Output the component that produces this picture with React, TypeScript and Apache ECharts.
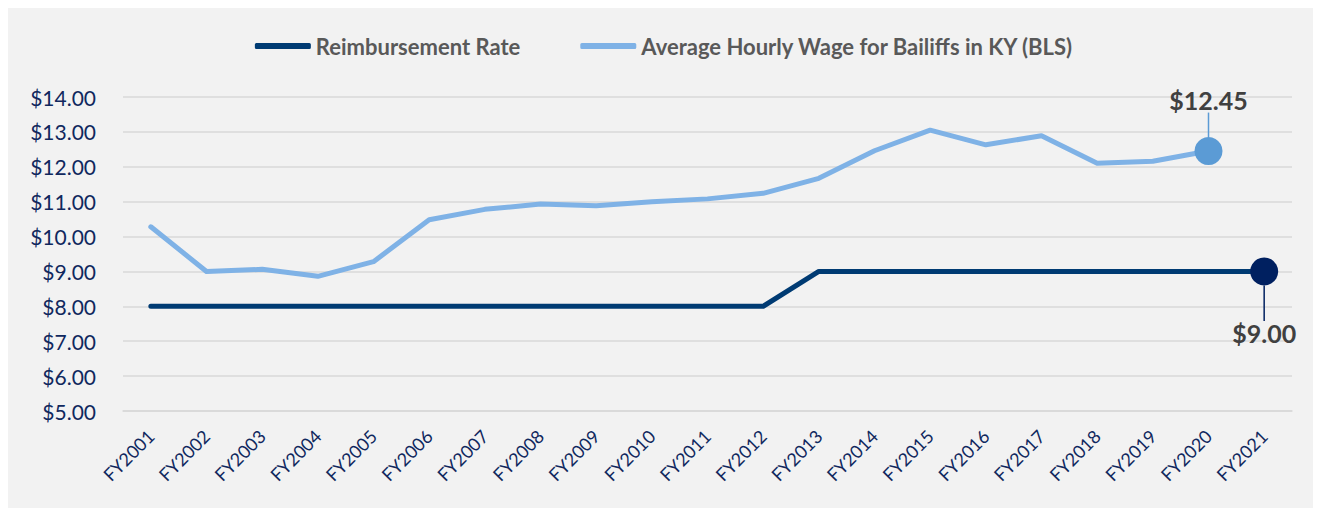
import React, { useEffect, useRef } from "react";
import * as echarts from "echarts";

const categories = [
  "FY2001", "FY2002", "FY2003", "FY2004", "FY2005", "FY2006", "FY2007",
  "FY2008", "FY2009", "FY2010", "FY2011", "FY2012", "FY2013", "FY2014",
  "FY2015", "FY2016", "FY2017", "FY2018", "FY2019", "FY2020", "FY2021",
];
const reimbursementRate = [8, 8, 8, 8, 8, 8, 8, 8, 8, 8, 8, 8, 9, 9, 9, 9, 9, 9, 9, 9, 9];
const avgHourlyWage = [
  10.28, 9.0, 9.06, 8.86, 9.28, 10.48, 10.78, 10.93, 10.88, 11.0, 11.08,
  11.24, 11.67, 12.46, 13.05, 12.63, 12.89, 12.1, 12.16, 12.45, null,
];
const seriesNames = ["Reimbursement Rate", "Average Hourly Wage for Bailiffs in KY (BLS)"];
const yMin = 5;
const yMax = 14;
const yInterval = 1;

const FONT = "Lato, 'Noto Sans', sans-serif";
const NAVY_TEXT = "#10285e";
const REIMB_LINE = "#003b73";
const REIMB_MARK = "#002060";
const WAGE_LINE = "#7fb2e6";
const WAGE_MARK = "#5b9bd5";

function lastIndex(arr: (number | null)[]) {
  for (let i = arr.length - 1; i >= 0; i--) if (arr[i] != null) return i;
  return -1;
}

function buildData(arr: (number | null)[], markColor: string) {
  const li = lastIndex(arr);
  return arr.map((v, i) => {
    if (i !== li) return { value: v };
    return {
      value: v,
      symbol: "circle",
      symbolSize: 28,
      itemStyle: { color: markColor },
      label: {
        show: true,
        position: "inside",
        formatter: (p: any) => "$" + Number(p.value).toFixed(2),
        fontFamily: FONT,
        fontWeight: "bold",
        fontSize: 25,
        color: "#404040",
      },
      labelLine: {
        show: true,
        lineStyle: { color: markColor, width: 1.5 },
      },
    };
  });
}

export default function App() {
  const ref = useRef<HTMLDivElement>(null);
  useEffect(() => {
    if (!ref.current) return;
    const chart = echarts.init(ref.current, null, { renderer: "svg" });
    chart.setOption({
      animation: false,
      backgroundColor: "#f2f2f2",
      legend: {
        top: 22,
        left: "center",
        itemWidth: 56,
        itemHeight: 6,
        itemGap: 60,
        icon: "roundRect",
        textStyle: {
          fontFamily: FONT,
          fontWeight: "bold",
          fontSize: 22,
          color: "#595959",
        },
        data: seriesNames,
      },
      grid: { left: 115, right: 29, top: 89, bottom: 97, containLabel: false },
      xAxis: {
        type: "category",
        data: categories,
        boundaryGap: true,
        axisLine: { show: true, lineStyle: { color: "#d9d9d9", width: 1.5 } },
        axisTick: { show: false },
        axisLabel: {
          rotate: 45,
          margin: 22,
          interval: 0,
          fontFamily: FONT,
          fontSize: 18,
          color: NAVY_TEXT,
        },
      },
      yAxis: {
        type: "value",
        min: yMin,
        max: yMax,
        interval: yInterval,
        axisLine: { show: false },
        axisTick: { show: false },
        splitLine: { lineStyle: { color: "#d9d9d9", width: 1.5 } },
        axisLabel: {
          margin: 27,
          fontFamily: FONT,
          fontSize: 21,
          color: NAVY_TEXT,
          formatter: (v: number) => "$" + v.toFixed(2),
        },
      },
      series: [
        {
          name: seriesNames[0],
          type: "line",
          data: buildData(reimbursementRate, REIMB_MARK),
          symbol: "none",
          color: REIMB_LINE,
          lineStyle: { color: REIMB_LINE, width: 5, cap: "round", join: "round" },
          labelLayout: { dy: 62 },
          z: 3,
        },
        {
          name: seriesNames[1],
          type: "line",
          data: buildData(avgHourlyWage, WAGE_MARK),
          symbol: "none",
          color: WAGE_LINE,
          lineStyle: { color: WAGE_LINE, width: 5, cap: "round", join: "round" },
          labelLayout: { dy: -51 },
          z: 2,
        },
      ],
    });
    return () => chart.dispose();
  }, []);
  return <div ref={ref} style={{ width: 1313, height: 500 }} />;
}
